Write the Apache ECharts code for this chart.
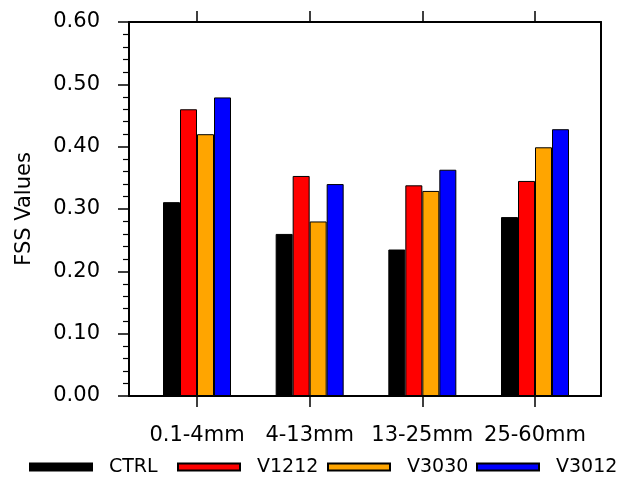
<!DOCTYPE html>
<html>
<head>
<meta charset="utf-8">
<script src="https://cdn.jsdelivr.net/npm/echarts@6/dist/echarts.min.js"></script>
<style>html,body{margin:0;padding:0;background:#fff;}#c{width:624px;height:478px;}</style>
</head>
<body>
<div id="c"></div>
<script>
var categories = ['0.1-4mm', '4-13mm', '13-25mm', '25-60mm'];
var seriesNames = ['CTRL', 'V1212', 'V3030', 'V3012'];
var ctrl  = [0.311, 0.260, 0.235, 0.287];
var v1212 = [0.460, 0.353, 0.338, 0.345];
var v3030 = [0.420, 0.280, 0.329, 0.399];
var v3012 = [0.479, 0.340, 0.363, 0.428];
var yTicks = [0, 0.1, 0.2, 0.3, 0.4, 0.5, 0.6];

var colors = ['#000000', '#ff0000', '#ffa500', '#0000ff'];
var values = [ctrl, v1212, v3030, v3012];
var FONT = 'DejaVu Sans';

var chart = echarts.init(document.getElementById('c'), null, {renderer: 'canvas'});

var series = seriesNames.map(function (n, i) {
  return {
    name: n, type: 'bar', xAxisIndex: 2, yAxisIndex: 2,
    data: values[i], barWidth: 17, barGap: '0%',
    itemStyle: {color: colors[i], borderColor: '#000', borderWidth: 1},
    emphasis: {disabled: true}, animation: false
  };
});

var legendLefts = [29, 177, 327, 476];
var legends = seriesNames.map(function (n, i) {
  return {
    data: [n], left: legendLefts[i], top: 456, padding: 0,
    itemWidth: 62, itemHeight: 7, icon: 'rect', selectedMode: false,
    textStyle: {fontFamily: FONT, fontSize: 19, color: '#000', padding: [0, 0, 0, 12], lineHeight: 22}
  };
});

var lineStyle = {color: '#000', width: 2};
var option = {
  animation: false,
  backgroundColor: '#fff',
  grid: [
    {left: 129, top: 22, width: 472, height: 374, containLabel: false},
    {left: 140.67, top: 22, width: 450.67, height: 374, containLabel: false}
  ],
  xAxis: [
    {gridIndex: 0, type: 'value', position: 'bottom', min: 0, max: 1,
     axisLine: {show: true, onZero: false, lineStyle: lineStyle}, axisTick: {show: false}, axisLabel: {show: false}, splitLine: {show: false}},
    {gridIndex: 0, type: 'value', position: 'top', min: 0, max: 1,
     axisLine: {show: true, onZero: false, lineStyle: lineStyle}, axisTick: {show: false}, axisLabel: {show: false}, splitLine: {show: false}},
    {gridIndex: 1, type: 'category', position: 'bottom', data: categories, boundaryGap: true,
     axisLine: {show: false, onZero: false}, axisTick: {show: true, alignWithLabel: true, inside: false, length: 11, lineStyle: {color: '#000', width: 1.5}},
     axisLabel: {show: true, margin: 29, fontFamily: FONT, fontSize: 21, color: '#000', interval: 0},
     splitLine: {show: false}},
    {gridIndex: 1, type: 'category', position: 'top', data: categories, boundaryGap: true,
     axisLine: {show: false, onZero: false}, axisTick: {show: true, alignWithLabel: true, inside: false, length: 11, lineStyle: {color: '#000', width: 1.5}},
     axisLabel: {show: false}, splitLine: {show: false}}
  ],
  yAxis: [
    {gridIndex: 0, type: 'value', position: 'left', min: yTicks[0], max: yTicks[yTicks.length - 1], interval: 0.1,
     name: 'FSS Values', nameLocation: 'middle', nameGap: 94,
     nameTextStyle: {fontFamily: FONT, fontSize: 21, color: '#000'},
     axisLine: {show: true, onZero: false, lineStyle: lineStyle},
     axisTick: {show: true, inside: false, length: 11, lineStyle: {color: '#000', width: 1.5}},
     minorTick: {show: true, splitNumber: 5, length: 6, lineStyle: {color: '#000', width: 1.2}},
     axisLabel: {show: true, margin: 29, fontFamily: FONT, fontSize: 21, color: '#000',
                 formatter: function (v) { return v.toFixed(2); }},
     splitLine: {show: false}, minorSplitLine: {show: false}},
    {gridIndex: 0, type: 'value', position: 'right', min: 0, max: 0.6,
     axisLine: {show: true, onZero: false, lineStyle: lineStyle}, axisTick: {show: false}, axisLabel: {show: false}, splitLine: {show: false}},
    {gridIndex: 1, type: 'value', min: 0, max: 0.6, show: false, splitLine: {show: false}}
  ],
  legend: legends,
  series: series
};
chart.setOption(option);
</script>
</body>
</html>
